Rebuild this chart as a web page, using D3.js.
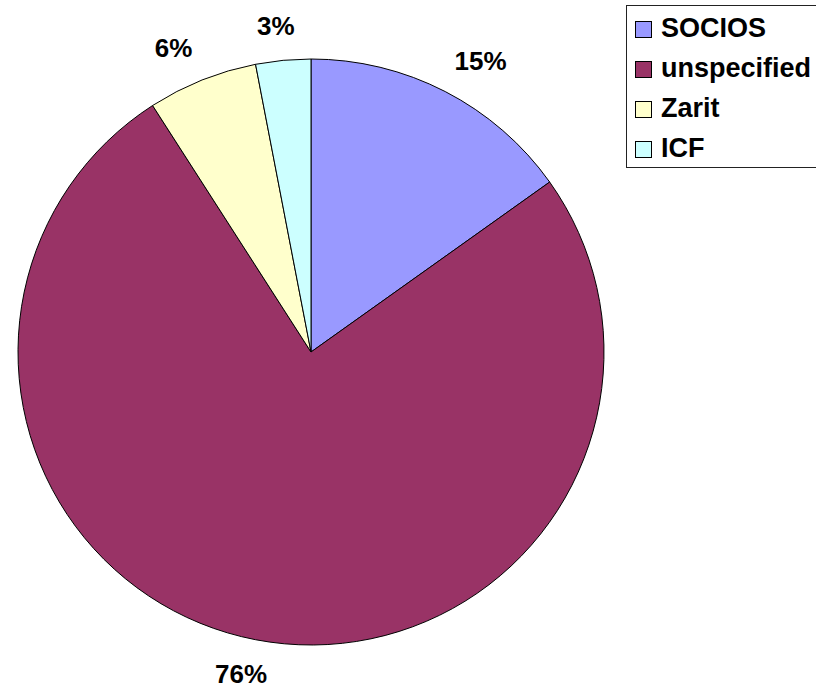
<!DOCTYPE html>
<html>
<head>
<meta charset="utf-8">
<script src="https://cdn.jsdelivr.net/npm/d3@7"></script>
<style>
  html, body { margin: 0; padding: 0; background: #fff; }
  svg { display: block; }
  text { font-family: "Liberation Sans", Arial, sans-serif; font-weight: bold; fill: #000; }
</style>
</head>
<body>
<svg id="chart" width="816" height="689"></svg>
<script>
const categories = ["SOCIOS", "unspecified", "Zarit", "ICF"];
const values = [5, 25, 2, 1];
const colors = ["#9999FF", "#993366", "#FFFFCC", "#CCFFFF"];

const svg = d3.select("#chart");
const cx = 311, cy = 352, r = 293;
const labelRx = 370, labelRy = 328;

const total = d3.sum(values);
const data = categories.map((c, i) => ({ name: c, value: values[i], color: colors[i] }));

const pie = d3.pie().sort(null).value(d => d.value);
const arcs = pie(data);
const arc = d3.arc().innerRadius(0).outerRadius(r);

const g = svg.append("g").attr("transform", `translate(${cx},${cy})`);
g.selectAll("path.slice").data(arcs).enter().append("path")
  .attr("class", "slice")
  .attr("d", arc)
  .attr("fill", d => d.data.color)
  .attr("stroke", "#000")
  .attr("stroke-width", 1)
  .attr("stroke-linejoin", "round");

const fmt = d3.format(".0%");
function labelPos(d) {
  const a = (d.startAngle + d.endAngle) / 2;
  return [Math.sin(a) * labelRx, -Math.cos(a) * labelRy];
}
g.selectAll("text.lbl").data(arcs).enter().append("text")
  .attr("class", "lbl")
  .attr("transform", d => `translate(${labelPos(d)})`)
  .attr("text-anchor", "middle")
  .attr("dy", "0.36em")
  .style("font-size", "26px")
  .text(d => fmt(d.data.value / total));

// Legend
const lg = svg.append("g");
lg.append("rect")
  .attr("x", 626.5).attr("y", 5.5)
  .attr("width", 220).attr("height", 162)
  .attr("fill", "#fff").attr("stroke", "#222").attr("stroke-width", 1);

const baseY = 37, step = 40;
const items = lg.selectAll("g.item").data(data).enter().append("g").attr("class", "item");
items.append("rect")
  .attr("x", 635.5)
  .attr("y", (d, i) => baseY + i * step - 15.5)
  .attr("width", 16).attr("height", 16)
  .attr("fill", d => d.color)
  .attr("stroke", "#000").attr("stroke-width", 1);
items.append("text")
  .attr("x", 661)
  .attr("y", (d, i) => baseY + i * step)
  .style("font-size", "27px")
  .text(d => d.name);
</script>
</body>
</html>
